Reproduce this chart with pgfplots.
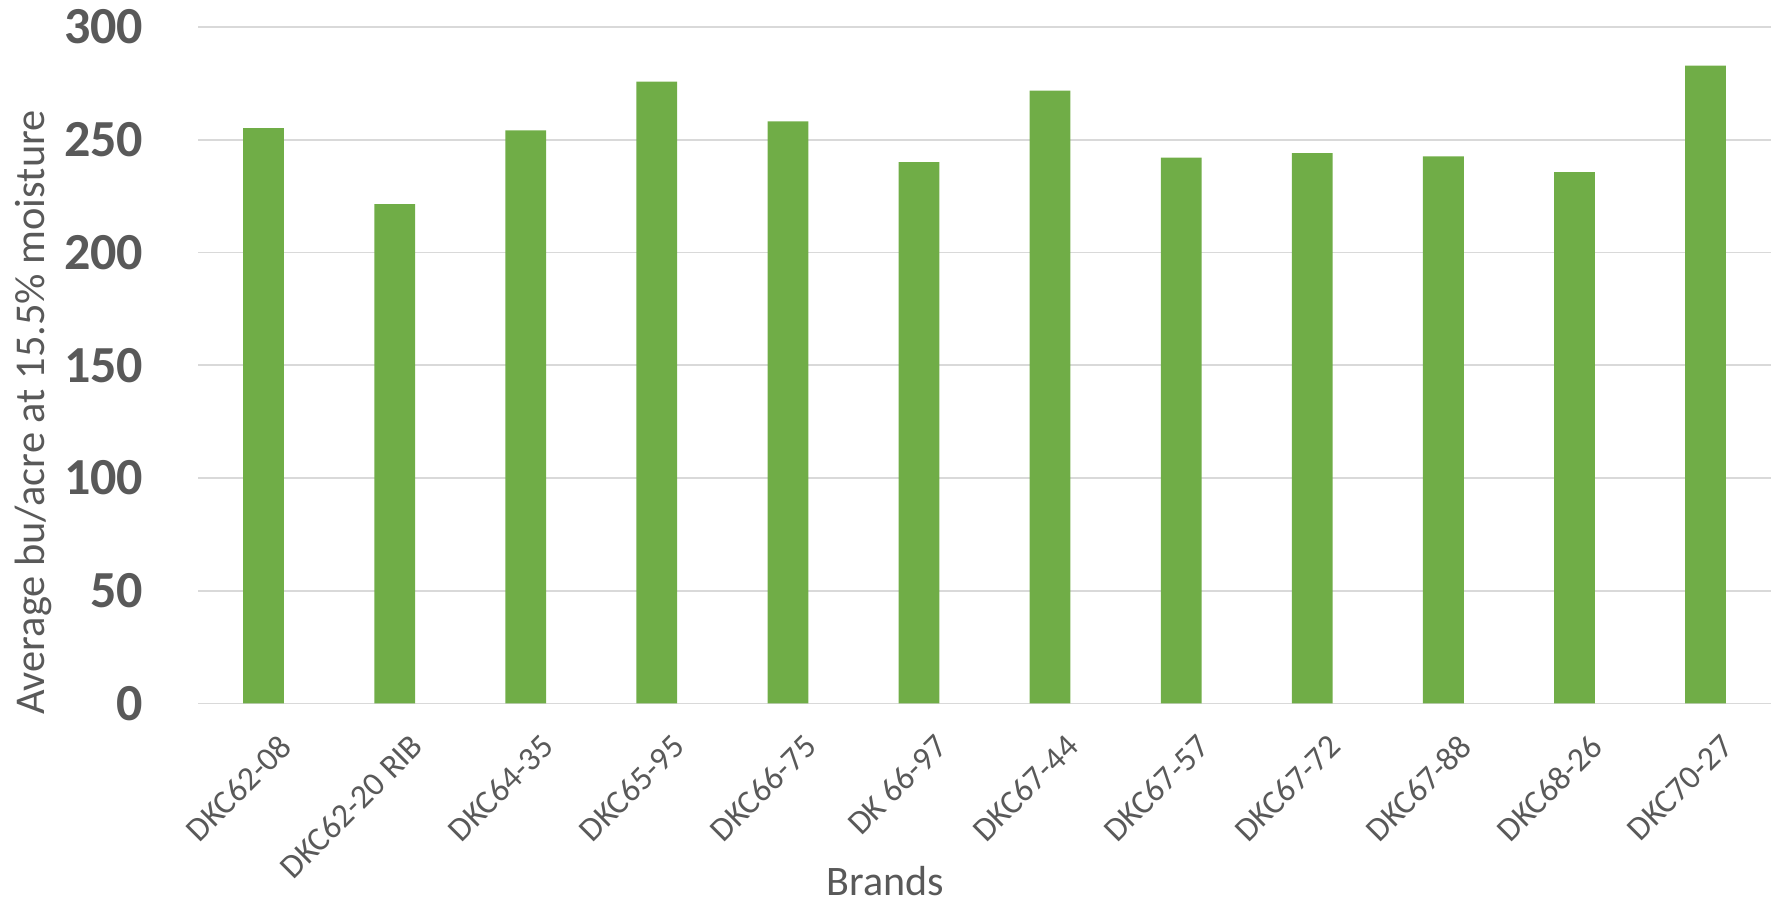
\documentclass[border=0pt]{standalone}
\usepackage{fontspec}
\setmainfont{Carlito}
\usepackage{pgfplots}
\pgfplotsset{compat=1.18}
\definecolor{barg}{HTML}{70AD47}
\definecolor{gridc}{HTML}{D9D9D9}
\definecolor{txt}{HTML}{595959}
\begin{document}
\begin{tikzpicture}
\begin{axis}[
  scale only axis,
  width=393pt, height=169pt,
  ybar, bar width=10.2pt,
  xmin=-0.5, xmax=11.5,
  ymin=0, ymax=300,
  ytick={0,50,...,300},
  xtick=data,
  xticklabels={DKC62-08, DKC62-20 RIB, DKC64-35, DKC65-95, DKC66-75, DK 66-97, DKC67-44, DKC67-57, DKC67-72, DKC67-88, DKC68-26, DKC70-27},
  axis line style={draw=none},
  major tick length=0pt,
  ymajorgrids, grid style={gridc, line width=0.45pt},
  /pgf/number format/assume math mode=true,
  tick label style={txt},
  yticklabel style={font=\bfseries\fontsize{13}{14}\selectfont, inner sep=0pt, xshift=-13.5pt},
  xticklabel style={font=\fontsize{8.4}{10}\selectfont, rotate=45, anchor=north east, inner sep=1pt, xshift=-1.5pt, yshift=-6.5pt},
  ylabel={Average bu/acre at 15.5\% moisture},
  ylabel style={txt, font=\fontsize{10.6}{12}\selectfont, at={(axis description cs:-0.117,0.43)}, anchor=north, inner sep=0pt, rotate=0},
  xlabel={Brands},
  xlabel style={txt, font=\fontsize{10.5}{12}\selectfont, at={(axis description cs:0.437,-0.24)}, anchor=north, inner sep=0pt},
]
\addplot[fill=barg, draw=none] coordinates {
  (0,255.2) (1,221.5) (2,254.2) (3,275.8) (4,258.2) (5,240.1)
  (6,271.8) (7,242.1) (8,244.1) (9,242.6) (10,235.6) (11,282.9)};
\coordinate (bl) at (rel axis cs:-0.1259,-0.2929);
\coordinate (tr) at (rel axis cs:1.0038,1.04);
\end{axis}
\path (bl) rectangle (tr);
\end{tikzpicture}
\end{document}
